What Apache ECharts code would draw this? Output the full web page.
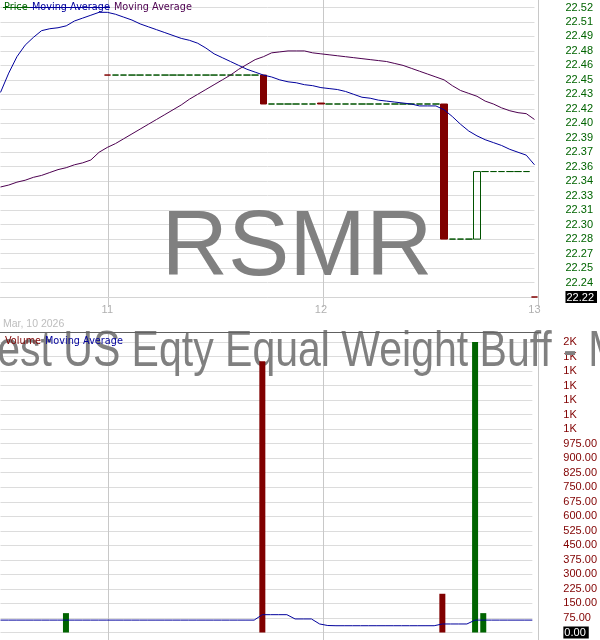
<!DOCTYPE html>
<html><head><meta charset="utf-8">
<script src="https://cdn.jsdelivr.net/npm/echarts@6/dist/echarts.min.js"></script>
<style>html,body{margin:0;padding:0;background:#fff}#c{width:600px;height:640px}</style>
</head><body><div id="c"></div>
<script>
// ---- sessions / categories (15-minute bars) ----
const sessions = [
  ['2026-03-10', '12:45', '15:45'],
  ['2026-03-11', '09:30', '15:45'],
  ['2026-03-12', '09:30', '15:45'],
  ['2026-03-13', '09:30', '09:30']
];
const barMinutes = 15;
const categories = [];
sessions.forEach(([d, s, e]) => {
  const [sh, sm] = s.split(':').map(Number), [eh, em] = e.split(':').map(Number);
  for (let t = sh * 60 + sm; t <= eh * 60 + em; t += barMinutes) {
    categories.push(d + ' ' + String(Math.floor(t / 60)).padStart(2, '0') + ':' + String(t % 60).padStart(2, '0'));
  }
});

// ---- price bars ----
const openPrices = [
  null,null,null,null,null,null,null,null,null,null,null,null,null,
  22.45,22.45,22.45,22.45,22.45,22.45,22.45,22.45,22.45,22.45,22.45,22.45,22.45,22.45,22.45,22.45,22.45,22.45,22.45,
  22.45,
  22.42,22.42,22.42,22.42,22.42,22.42,
  22.421,
  22.42,22.42,22.42,22.42,22.42,22.42,22.42,22.42,22.42,22.42,22.42,22.42,22.42,22.42,
  22.42,
  22.28,22.28,22.28,
  22.28,
  22.35,22.35,22.35,22.35,22.35,22.35,
  22.22
];
const closePrices = [
  null,null,null,null,null,null,null,null,null,null,null,null,null,
  22.45,22.45,22.45,22.45,22.45,22.45,22.45,22.45,22.45,22.45,22.45,22.45,22.45,22.45,22.45,22.45,22.45,22.45,22.45,
  22.42,
  22.42,22.42,22.42,22.42,22.42,22.42,
  22.42,
  22.42,22.42,22.42,22.42,22.42,22.42,22.42,22.42,22.42,22.42,22.42,22.42,22.42,22.42,
  22.28,
  22.28,22.28,22.28,
  22.35,
  22.35,22.35,22.35,22.35,22.35,22.35,
  22.22
];
const priceMA = [
  22.432,22.452,22.469,22.481,22.489,22.496,22.498,22.499,22.501,22.506,22.509,22.512,22.515,
  22.515,22.513,22.510,22.507,22.503,22.500,22.497,22.494,22.491,22.488,22.486,22.483,22.478,
  22.472,22.468,22.464,22.460,22.456,22.453,22.450,22.448,22.445,22.443,22.442,22.440,22.439,
  22.437,22.436,22.435,22.433,22.430,22.427,22.426,22.424,22.423,22.422,22.421,22.420,22.418,
  22.418,22.418,22.414,22.407,22.399,22.392,22.387,22.383,22.380,22.377,22.373,22.370,22.367,
  22.357
];
const movingAverage = [
  22.334,22.336,22.339,22.341,22.344,22.346,22.349,22.352,22.354,22.357,22.359,22.362,22.370,
  22.375,22.379,22.384,22.389,22.394,22.399,22.404,22.409,22.414,22.419,22.425,22.430,22.435,
  22.440,22.445,22.450,22.456,22.461,22.466,22.469,22.473,22.474,22.475,22.475,22.475,22.473,
  22.472,22.471,22.470,22.469,22.468,22.467,22.466,22.465,22.464,22.462,22.460,22.457,22.454,
  22.451,22.448,22.445,22.439,22.434,22.431,22.428,22.423,22.420,22.416,22.413,22.411,22.410,
  22.404
];

// ---- volume ----
const volumes = [
  0,0,0,0,0,0,0,0,100,0,0,0,0,
  0,0,0,0,0,0,0,0,0,0,0,0,0,0,0,0,0,0,0,
  1400,
  0,0,0,0,0,0,
  0,
  0,0,0,0,0,0,0,0,0,0,0,0,0,0,
  200,
  0,0,0,
  1500,
  100,0,0,0,0,0,
  0
];
const volumeMA = [
  64,64,64,64,64,64,64,64,64,64,64,64,64,
  64,64,64,64,64,64,64,64,64,64,64,64,64,64,64,64,64,64,64,
  92,92,92,92,
  70,70,70,
  44,36,
  35,35,35,35,35,35,35,35,35,35,35,35,35,
  44,44,44,44,
  64,
  64,64,64,64,64,64,64
];

// ---- axis tick labels ----
const priceTickLabels = ['22.22','22.24','22.25','22.27','22.28','22.30','22.31','22.33','22.34','22.36','22.37',
  '22.39','22.40','22.42','22.43','22.45','22.46','22.48','22.49','22.51','22.52'];
const volumeTickLabels = ['0.00','75.00','150.00','225.00','300.00','375.00','450.00','525.00','600.00','675.00',
  '750.00','825.00','900.00','975.00','1K','1K','1K','1K','1K','1K','2K'];
const priceAxisBase = 22.22;   // price of the lowest tick
const priceAxisStep = 0.015;   // price between ticks
const volumeAxisStep = 75;
const lastPriceLabel = '22.22';
const lastVolumeLabel = '0.00';

// ---- build ----
const SCALE = 1000; // price axis in thousandths above base
const toAxis = p => (p == null ? '-' : Math.round((p - priceAxisBase) * SCALE * 1000) / 1000);
const pStep = Math.round(priceAxisStep * SCALE);
const candleData = openPrices.map((o, i) => {
  const c = closePrices[i];
  if (o == null || c == null) return ['-', '-', '-', '-'];
  return [toAxis(o), toAxis(c), toAxis(Math.min(o, c)), toAxis(Math.max(o, c))];
});
const dayStarts = categories.map((c, i) => c.endsWith('09:30') ? i : -1).filter(i => i >= 0);
const isDayStart = (i) => dayStarts.indexOf(i) >= 0;

const GREEN = '#006400', RED = '#800000', BLUE = '#00009c', PURPLE = '#4d0050';
const FONT = '"Liberation Sans", Arial, sans-serif';
const gridL = 0.5, gridR = 61.9;
const LBL = 11;

const chart = echarts.init(document.getElementById('c'), null, { renderer: 'canvas' });
chart.setOption({
  animation: false,
  backgroundColor: '#fff',
  grid: [
    { left: gridL, right: gridR, top: 7.5, height: 289.5 },
    { left: gridL, right: gridR, top: 342, height: 290.5 },
    { left: gridL, right: gridR, top: 0, height: 307 },
    { left: gridL, right: gridR, top: 332, height: 308 }
  ],
  xAxis: [
    { type: 'category', gridIndex: 0, data: categories, boundaryGap: false, offset: 5.5,
      axisLine: { show: true, lineStyle: { color: '#d4d4d4', width: 1 } },
      axisTick: { show: false }, splitLine: { show: false },
      axisLabel: { interval: (i) => isDayStart(i), margin: 2, color: '#b0b0b0', fontFamily: FONT, fontSize: 11,
        formatter: (v) => String(Number(v.slice(8, 10))) } },
    { type: 'category', gridIndex: 1, data: categories, boundaryGap: false,
      axisLine: { show: false }, axisTick: { show: false }, axisLabel: { show: false }, splitLine: { show: false } },
    { type: 'category', gridIndex: 2, data: categories, boundaryGap: false,
      axisLine: { show: false }, axisTick: { show: false }, axisLabel: { show: false },
      splitLine: { show: true, interval: (i) => isDayStart(i), lineStyle: { color: '#c8c8c8', width: 1 } } },
    { type: 'category', gridIndex: 3, data: categories, boundaryGap: false,
      axisLine: { show: false }, axisTick: { show: false }, axisLabel: { show: false },
      splitLine: { show: true, interval: (i) => isDayStart(i), lineStyle: { color: '#c8c8c8', width: 1 } } }
  ],
  yAxis: [
    { type: 'value', gridIndex: 0, position: 'right', min: 0, max: pStep * (priceTickLabels.length - 1), interval: pStep,
      axisLine: { show: false }, axisTick: { show: false },
      splitLine: { show: true, lineStyle: { color: '#dcdcdc', width: 1 } },
      axisLabel: { margin: 31, color: GREEN, fontFamily: FONT, fontSize: LBL,
        formatter: (v) => { const k = Math.round(v / pStep); const t = priceTickLabels[k] || ''; return k === 0 ? '{hl|' + lastPriceLabel + '}' : t; },
        rich: { hl: { backgroundColor: '#000', color: '#fff', padding: [1, 3, 0, 1], fontFamily: FONT, fontSize: LBL, lineHeight: 12 } } } },
    { type: 'value', gridIndex: 1, position: 'right', min: 0, max: volumeAxisStep * (volumeTickLabels.length - 1), interval: volumeAxisStep,
      axisLine: { show: false }, axisTick: { show: false },
      splitLine: { show: true, lineStyle: { color: '#dcdcdc', width: 1 } },
      axisLabel: { margin: 31, color: RED, fontFamily: FONT, fontSize: LBL,
        formatter: (v) => { const k = Math.round(v / volumeAxisStep); const t = volumeTickLabels[k] || ''; return k === 0 ? '{hl|' + lastVolumeLabel + '}' : t; },
        rich: { hl: { backgroundColor: '#000', color: '#fff', padding: [1, 3, 0, 1], fontFamily: FONT, fontSize: LBL, lineHeight: 12 } } } },
    { type: 'value', gridIndex: 2, min: 0, max: 1, show: false },
    { type: 'value', gridIndex: 3, min: 0, max: 1, show: false }
  ],
  series: [
    { type: 'candlestick', name: 'Price', xAxisIndex: 0, yAxisIndex: 0, data: candleData, barWidth: 7, clip: false, z: 3,
      itemStyle: { color: 'rgba(255,255,255,0)', color0: RED, borderColor: '#005200', borderColor0: RED, borderWidth: 1 } },
    { type: 'line', name: 'Price Moving Average', xAxisIndex: 0, yAxisIndex: 0, data: priceMA.map(toAxis),
      symbol: 'none', z: 4, lineStyle: { color: BLUE, width: 1 } },
    { type: 'line', name: 'Moving Average', xAxisIndex: 0, yAxisIndex: 0, data: movingAverage.map(toAxis),
      symbol: 'none', z: 4, lineStyle: { color: PURPLE, width: 1 } },
    { type: 'bar', name: 'Volume', xAxisIndex: 1, yAxisIndex: 1, barWidth: 6, z: 3,
      data: volumes.map((v, i) => ({ value: v, itemStyle: { color: (closePrices[i] != null && openPrices[i] != null && closePrices[i] < openPrices[i]) ? RED : GREEN } })) },
    { type: 'line', name: 'Volume Moving Average', xAxisIndex: 1, yAxisIndex: 1, data: volumeMA,
      symbol: 'none', z: 4, lineStyle: { color: BLUE, width: 1 } }
  ],
  graphic: [
    { type: 'text', z: 1, silent: true, style: { text: 'RSMR', x: 297, y: 250, align: 'center', verticalAlign: 'middle',
      font: '92px "Liberation Sans", Arial, sans-serif', fill: '#808080' } },
    { type: 'text', z: 1, silent: true, x: 0, y: 0, scaleX: 0.82, scaleY: 1,
      style: { text: 'FT Vest US Eqty Equal Weight Buff - Mar', x: -109, y: 352, align: 'left', verticalAlign: 'middle',
      font: '50px "Liberation Sans", Arial, sans-serif', fill: '#808080' } },
    { type: 'line', z: 1, silent: true, shape: { x1: 0, y1: 332.5, x2: 541, y2: 332.5 }, style: { stroke: '#606060', lineWidth: 1 } },
    { type: 'text', z: 10, silent: true, style: { text: 'Mar, 10 2026', x: 3, y: 324, verticalAlign: 'middle', font: '10.5px "Liberation Sans", Arial, sans-serif', fill: '#bdbdbd' } },
    { type: 'text', z: 10, silent: true, style: { text: 'Price', x: 4, y: 7, verticalAlign: 'middle', font: '9.7px "DejaVu Sans"', fill: GREEN } },
    { type: 'text', z: 10, silent: true, style: { text: 'Moving Average', x: 32, y: 7, verticalAlign: 'middle', font: '9.7px "DejaVu Sans"', fill: BLUE } },
    { type: 'text', z: 10, silent: true, style: { text: 'Moving Average', x: 114, y: 7, verticalAlign: 'middle', font: '9.7px "DejaVu Sans"', fill: PURPLE } },
    { type: 'line', z: 10, silent: true, shape: { x1: 3, y1: 7.5, x2: 30, y2: 7.5 }, style: { stroke: GREEN, lineWidth: 1 } },
    { type: 'line', z: 10, silent: true, shape: { x1: 30, y1: 7.5, x2: 110, y2: 7.5 }, style: { stroke: BLUE, lineWidth: 1 } },
    { type: 'text', z: 10, silent: true, style: { text: 'Volume', x: 5, y: 341, verticalAlign: 'middle', font: '9.7px "DejaVu Sans"', fill: RED } },
    { type: 'text', z: 10, silent: true, style: { text: 'Moving Average', x: 45, y: 341, verticalAlign: 'middle', font: '9.7px "DejaVu Sans"', fill: BLUE } }
  ]
});
</script>
</body></html>
